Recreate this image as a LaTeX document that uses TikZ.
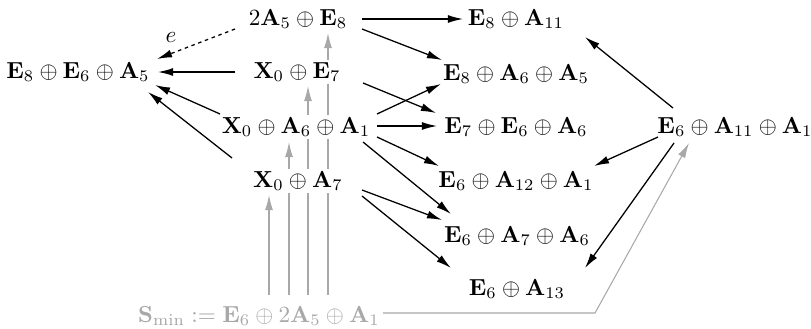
\documentclass[tikz,border=0pt]{standalone}
\usetikzlibrary{arrows.meta,backgrounds}
\definecolor{lgray}{gray}{0.66}
\begin{document}
\begin{tikzpicture}[x=0.431pt,y=-0.431pt,
  lab/.style={fill=white,inner sep=1.2pt},
  arr/.style={-{Latex[length=6.5pt,width=3.4pt]},black,line width=0.55pt},
  garr/.style={-{Latex[length=6.5pt,width=3.4pt]},lgray,line width=0.45pt},
  dotarr/.style={arr,dash pattern=on 1.5pt off 1.6pt},
]
\useasboundingbox (0,0) rectangle (811,328);
% nodes
\node[lab] (a)  at (298,19)  {$2\mathbf{A}_5\oplus\mathbf{E}_8$};
\node[lab] (b)  at (516,19)  {$\mathbf{E}_8\oplus\mathbf{A}_{11}$};
\node[lab] (c)  at (78,72)   {$\mathbf{E}_8\oplus\mathbf{E}_6\oplus\mathbf{A}_5$};
\node[lab] (d)  at (297,72)  {$\mathbf{X}_0\oplus\mathbf{E}_7$};
\node[lab] (f)  at (516,74)  {$\mathbf{E}_8\oplus\mathbf{A}_6\oplus\mathbf{A}_5$};
\node[lab] (g)  at (296,127) {$\mathbf{X}_0\oplus\mathbf{A}_6\oplus\mathbf{A}_1$};
\node[lab] (h)  at (516,127) {$\mathbf{E}_7\oplus\mathbf{E}_6\oplus\mathbf{A}_6$};
\node[lab] (k)  at (735,127) {$\mathbf{E}_6\oplus\mathbf{A}_{11}\oplus\mathbf{A}_1$};
\node[lab] (l)  at (516,181) {$\mathbf{E}_6\oplus\mathbf{A}_{12}\oplus\mathbf{A}_1$};
\node[lab] (m)  at (298,181) {$\mathbf{X}_0\oplus\mathbf{A}_7$};
\node[lab] (n)  at (517,236) {$\mathbf{E}_6\oplus\mathbf{A}_7\oplus\mathbf{A}_6$};
\node[lab] (p)  at (517,289) {$\mathbf{E}_6\oplus\mathbf{A}_{13}$};
\node[lab,text=lgray] (s) at (259,316) {$\mathbf{S}_{\mathrm{min}}:=\mathbf{E}_6\oplus 2\mathbf{A}_5\oplus\mathbf{A}_1$};
\coordinate (corner) at (595,313);
% gray arrows (behind the labels)
\begin{scope}[on background layer]
\draw[garr] ([shift={(10,-21)}]s.center) -- ([shift={(-29,14)}]m.center);
\draw[garr] ([shift={(30,-21)}]s.center) -- ([shift={(-7,15)}]g.center);
\draw[garr] ([shift={(49,-21)}]s.center) -- ([shift={(11,14)}]d.center);
\draw[garr] ([shift={(69,-21)}]s.center) -- ([shift={(30,14)}]a.center);
\draw[garr] ([shift={(118,-3)}]s.center) -- (corner) -- ([shift={(-46,16)}]k.center);
\end{scope}
% black arrows
\draw[arr] ([shift={(64,0)}]a.center) -- ([shift={(-53,0)}]b.center);
\draw[arr] ([shift={(64,10)}]a.center) -- ([shift={(-74,-14)}]f.center);
\draw[dotarr] ([shift={(-63,10)}]a.center) -- node[pos=0.82,above=4.5pt,inner sep=0pt] {$e$} ([shift={(79,-13)}]c.center);
\draw[arr] ([shift={(-62,0)}]d.center) -- ([shift={(80,0)}]c.center);
\draw[arr] ([shift={(66,11)}]d.center) -- ([shift={(-80,-14)}]h.center);
\draw[arr] ([shift={(-76,-13)}]g.center) -- ([shift={(77,13)}]c.center);
\draw[arr] ([shift={(81,-13)}]g.center) -- ([shift={(-75,10)}]f.center);
\draw[arr] ([shift={(81,-1)}]g.center) -- ([shift={(-79,-1)}]h.center);
\draw[arr] ([shift={(81,10)}]g.center) -- ([shift={(-77,-15)}]l.center);
\draw[arr] ([shift={(67,15)}]g.center) -- ([shift={(-66,-22)}]n.center);
\draw[arr] ([shift={(-66,-23)}]m.center) -- ([shift={(70,20)}]c.center);
\draw[arr] ([shift={(64,9)}]m.center) -- ([shift={(-75,-16)}]n.center);
\draw[arr] ([shift={(64,15)}]m.center) -- ([shift={(-66,-21)}]p.center);
\draw[arr] ([shift={(-62,-19)}]k.center) -- ([shift={(69,18)}]b.center);
\draw[arr] ([shift={(-77,10)}]k.center) -- ([shift={(78,-15)}]l.center);
\draw[arr] ([shift={(-61,16)}]k.center) -- ([shift={(68,-21)}]p.center);
\end{tikzpicture}
\end{document}
